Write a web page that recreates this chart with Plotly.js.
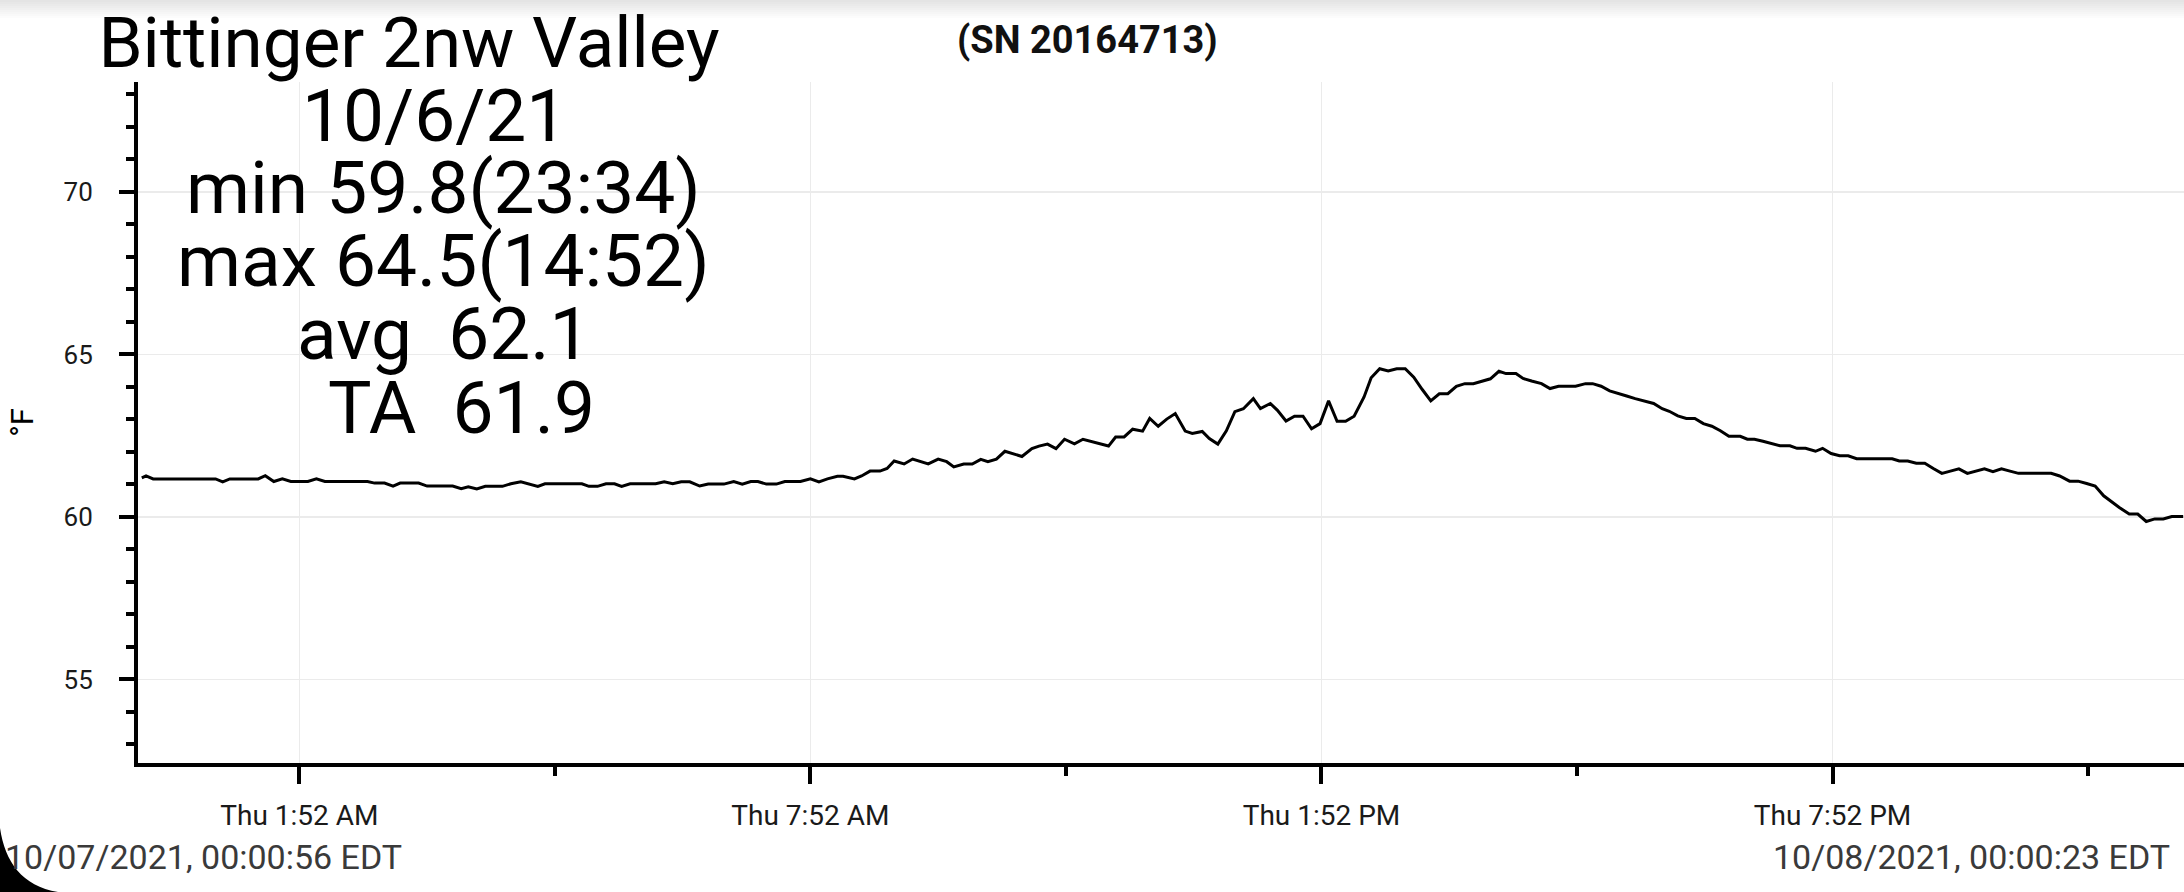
<!DOCTYPE html>
<html><head><meta charset="utf-8">
<script src="https://cdn.plot.ly/plotly-3.0.1.min.js"></script>
<style>html,body{margin:0;padding:0;background:#fff;overflow:hidden}#chart{width:2184px;height:892px}</style>
</head><body><div id="chart"></div>
<script>
// ---- data ----
const day = '2021-10-07';
const times = ['00:01','00:04','00:09','00:53','00:58','01:03','01:23','01:28','01:34','01:40','01:46','01:58','02:04','02:10','02:40','02:45','02:52','02:58','03:03','03:16','03:22','03:40','03:46','03:51','03:57','04:03','04:15','04:21','04:28','04:34','04:40','04:45','05:11','05:16','05:22','05:28','05:34','05:39','05:45','06:03','06:09','06:15','06:21','06:27',
'06:34','06:40','06:51','06:58','07:04','07:10','07:15','07:21','07:28','07:34','07:45','07:52','07:58','08:04','08:11','08:15','08:23','08:28','08:34','08:41','08:46','08:51','08:58','09:04','09:10','09:15','09:22','09:28','09:33','09:40','09:46','09:52','09:57','10:03','10:09','10:15','10:21','10:28','10:33','10:39','10:45','10:51','10:58','11:04','11:22','11:27','11:33','11:39','11:46','11:51','11:57','12:03','12:09','12:16','12:21','12:28','12:33','12:39','12:45','12:51','12:57',
'13:04','13:09','13:16','13:21','13:27','13:33','13:39','13:45','13:51','13:57','14:03','14:09','14:15','14:22','14:27','14:33','14:39','14:45','14:51','14:57','15:03','15:09','15:15','15:21','15:27','15:33','15:39','15:45','15:51','15:57','16:02','16:09','16:14','16:20','16:27','16:33','16:39','16:51','16:58','17:03','17:09','17:15','17:21','17:27','17:33','17:39','17:46','17:52','17:57','18:03','18:09','18:15','18:21','18:27','18:33','18:39','18:47',
'18:52','18:57','19:03','19:09','19:15','19:22','19:27','19:33','19:40','19:45','19:51','19:57','20:03','20:09','20:34','20:39','20:45','20:51','20:57','21:03','21:09','21:15','21:21','21:27','21:33','21:39','21:45','21:51','21:57','22:03','22:26','22:32','22:39','22:45','22:51','22:57','23:03','23:09','23:14','23:21','23:27','23:33','23:39','23:45','23:51','23:59'];
const temps = [61.20,61.26,61.17,61.17,61.08,61.17,61.17,61.27,61.09,61.17,61.09,61.09,61.17,61.09,61.09,61.04,61.04,60.95,61.04,61.04,60.95,60.95,60.87,60.93,60.86,60.94,60.94,61.02,61.08,61.02,60.94,61.02,61.02,60.94,60.94,61.02,61.02,60.94,61.02,61.02,61.08,61.02,61.08,61.08,
60.95,61.01,61.01,61.09,61.01,61.09,61.09,61.01,61.01,61.09,61.09,61.17,61.08,61.17,61.25,61.25,61.17,61.26,61.41,61.41,61.49,61.72,61.63,61.78,61.70,61.63,61.78,61.70,61.54,61.63,61.63,61.77,61.70,61.78,62.02,61.95,61.86,62.10,62.18,62.24,62.10,62.39,62.25,62.39,62.18,62.46,62.46,62.70,62.64,63.03,62.79,63.01,63.18,62.64,62.57,62.63,62.41,62.24,62.65,63.24,63.33,
63.64,63.33,63.49,63.28,62.95,63.10,63.10,62.71,62.87,63.57,62.94,62.94,63.10,63.69,64.28,64.56,64.49,64.56,64.56,64.30,63.92,63.57,63.79,63.79,64.02,64.10,64.10,64.17,64.25,64.48,64.41,64.41,64.26,64.18,64.10,63.95,64.02,64.02,64.10,64.10,64.02,63.88,63.79,63.72,63.64,63.57,63.49,63.33,63.25,63.11,63.03,63.03,62.87,62.79,62.65,62.48,62.48,
62.39,62.39,62.33,62.26,62.19,62.19,62.11,62.11,62.02,62.11,61.95,61.88,61.88,61.79,61.79,61.72,61.72,61.65,61.65,61.49,61.34,61.41,61.48,61.34,61.41,61.48,61.39,61.48,61.41,61.34,61.34,61.26,61.10,61.10,61.03,60.95,60.65,60.44,60.29,60.09,60.09,59.86,59.94,59.94,60.01,60.01];
const tickValues = ['01:52','07:52','13:52','19:52'];
const tickLabels = ['Thu 1:52 AM','Thu 7:52 AM','Thu 1:52 PM','Thu 7:52 PM'];
const chartTitle = 'Bittinger 2nw Valley';
const serialText = '(SN 20164713)';
const statLines = ['10/6/21','min 59.8(23:34)','max 64.5(14:52)','avg\u00a0\u00a062.1','TA\u00a0\u00a061.9'];
const startStamp = '10/07/2021, 00:00:56 EDT';
const endStamp = '10/08/2021, 00:00:23 EDT';
const unitLabel = '°F';

// ---- layout geometry (pixels) ----
const W = 2184, H = 892, L = 138, T = 82, B = 129, R = 0;
const PW = W - L - R, PH = H - T - B;
const px = x => (x - L) / PW;
const py = y => (T + PH - y) / PH;
const FONT = 'Roboto, "Open Sans", sans-serif';

const x = times.map(t => day + ' ' + t);

const statX = [434, 443.5, 443.5, 443.5, 461.5];
const statY = [116, 188.4, 261, 334.4, 408.4];

const annotations = statLines.map((s, i) => ({
  text: s, xref: 'paper', yref: 'paper', x: px(statX[i]), y: py(statY[i]),
  xanchor: 'center', yanchor: 'middle', showarrow: false,
  font: {family: FONT, size: 73, color: '#000'}
}));
annotations.push({text: serialText, xref: 'paper', yref: 'paper', x: px(1087), y: py(40),
  xanchor: 'center', yanchor: 'middle', showarrow: false,
  font: {family: FONT, size: 38, weight: 700, color: '#111'}});
annotations.push({text: startStamp, xref: 'paper', yref: 'paper', x: px(3), y: py(857),
  xanchor: 'left', yanchor: 'middle', showarrow: false,
  font: {family: FONT, size: 34, color: '#3a3a3a'}});
annotations.push({text: endStamp, xref: 'paper', yref: 'paper', x: px(2172), y: py(857),
  xanchor: 'right', yanchor: 'middle', showarrow: false,
  font: {family: FONT, size: 34, color: '#3a3a3a'}});

// top shading band and rounded screen corner
const shapes = [];
for (let i = 1; i <= 9; i++) {
  shapes.push({type: 'rect', xref: 'paper', yref: 'paper', x0: px(0), x1: px(W), y0: py(0), y1: py(i * 2),
    line: {width: 0}, fillcolor: 'rgba(0,0,0,0.011)', layer: 'above'});
}
const P = (a, b) => px(a) + ',' + py(b);
shapes.push({type: 'path', xref: 'paper', yref: 'paper',
  path: 'M' + P(0, 828) + ' C' + P(5, 862) + ' ' + P(22, 886) + ' ' + P(58, 892) + ' L' + P(0, 892) + ' Z',
  fillcolor: '#000', line: {width: 0}, layer: 'above'});

const data = [{
  type: 'scatter', mode: 'lines', x: x, y: temps,
  line: {color: '#000', width: 3}, hoverinfo: 'skip'
}];

const layout = {
  width: W, height: H,
  margin: {l: L, r: R, t: T, b: B, pad: 0},
  paper_bgcolor: '#fff', plot_bgcolor: '#fff',
  showlegend: false,
  font: {family: FONT, color: '#000'},
  title: {text: chartTitle, xref: 'container', yref: 'container', x: 409 / W, y: 1 - 42.5 / H,
    xanchor: 'center', yanchor: 'middle', font: {family: FONT, size: 71, color: '#000'}},
  xaxis: {
    type: 'date', range: ['2021-10-06 23:58:20', '2021-10-07 23:59:35'],
    tickmode: 'array', tickvals: tickValues.map(t => day + ' ' + t), ticktext: tickLabels,
    showline: true, linecolor: '#000', linewidth: 4,
    ticks: 'outside', ticklen: 17, tickwidth: 4, tickcolor: '#000',
    showgrid: true, gridcolor: '#ebebeb', gridwidth: 1.5, zeroline: false,
    tickfont: {family: FONT, size: 28, color: '#1a1a1a'}, ticklabelstandoff: 7,
    minor: {tick0: day + ' 01:52', dtick: 3 * 3600000, ticks: 'outside', ticklen: 9, tickwidth: 4, tickcolor: '#000', showgrid: false},
    fixedrange: true
  },
  yaxis: {
    range: [52.43, 73.38], tickmode: 'linear', tick0: 55, dtick: 5,
    showline: true, linecolor: '#000', linewidth: 4,
    ticks: 'outside', ticklen: 15, tickwidth: 4, tickcolor: '#000',
    showgrid: true, gridcolor: '#ebebeb', gridwidth: 1.5, zeroline: false,
    tickfont: {family: FONT, size: 26, color: '#1a1a1a'}, ticklabelstandoff: 21,
    minor: {dtick: 1, ticks: 'outside', ticklen: 8, tickwidth: 4, tickcolor: '#000', showgrid: false},
    title: {text: unitLabel, font: {family: FONT, size: 31, color: '#000'}, standoff: 22},
    fixedrange: true
  },
  annotations: annotations,
  shapes: shapes
};

Plotly.newPlot('chart', data, layout, {displayModeBar: false, staticPlot: true});
</script></body></html>
